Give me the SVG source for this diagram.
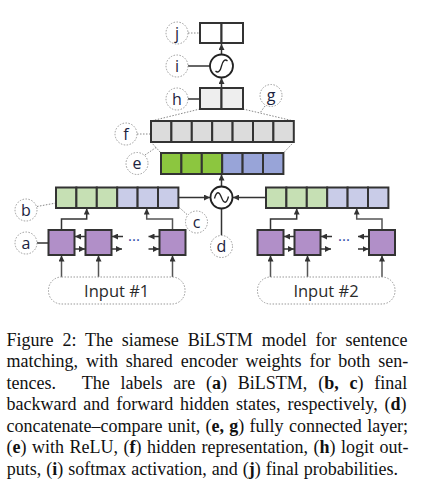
<svg xmlns="http://www.w3.org/2000/svg" width="427" height="490" viewBox="0 0 427 490">
<defs>
<marker id="ah" viewBox="0 0 10 10" refX="10" refY="5" markerWidth="6" markerHeight="6" markerUnits="userSpaceOnUse" orient="auto"><path d="M0,0 L10,5 L0,10 z" fill="#333"/></marker>
<style>
.cell{stroke:#333;stroke-width:2}
.lg{fill:#c6e0b4}.lv{fill:#c9cce8}.bg{fill:#8cc63f}.bb{fill:#98a4d8}.pu{fill:#b18fc8}.gf{fill:#dcdcdc}.gh{fill:#eeeeee}.wh{fill:#fff}
.lab{fill:#fff;stroke:#999;stroke-width:1;stroke-dasharray:1.5 1.5}
.lt{font-family:'Open Sans',sans-serif;font-size:16px;fill:#1c2340;text-anchor:middle}
.dot{fill:none;stroke:#888;stroke-width:1;stroke-dasharray:1.5 1.5}
.sol{fill:none;stroke:#333;stroke-width:1.5}
.arr{fill:none;stroke:#333;stroke-width:1.5;marker-end:url(#ah)}
.arg{fill:none;stroke:#555;stroke-width:1.5;marker-end:url(#ah)}
.inp{fill:#fff;stroke:#999;stroke-width:1;stroke-dasharray:1.5 1.5}
.it{font-family:'Open Sans',sans-serif;font-size:16.5px;fill:#2b2b2b;text-anchor:middle}
.cap{font-family:'Liberation Serif',serif;font-size:18px;fill:#111}
.b{font-weight:bold}
.dots{font-family:'Open Sans',sans-serif;font-size:15px;fill:#2a4aa8;text-anchor:middle}
</style>
</defs>
<rect width="427" height="490" fill="#fff"/>

<g id="connectors">
<path class="arr" d="M221.5 54.5 V44"/>
<path class="arr" d="M221.5 88 V78"/>
<path class="dot" d="M188 33 H200"/>
<path class="sol" d="M188 66 H210"/>
<path class="sol" d="M188 99 H200"/>
<path class="dot" d="M200 109 L151 121"/>
<path class="dot" d="M243 109 L293.8 121"/>
<path class="dot" d="M265 106 L260 113"/>
<path class="dot" d="M137 134 H151"/>
<path class="dot" d="M151 142 L161 153"/>
<path class="dot" d="M293.8 142 L283.4 153"/>
<path class="dot" d="M145 155 L156 147.5"/>
<path class="arr" d="M221.5 186.5 V174.5"/>
<path class="arr" d="M178.3 197.5 H210"/>
<path class="arr" d="M265.7 197.5 H233"/>
<path class="sol" d="M221.5 208.5 V235.5"/>
<path class="dot" d="M37 206.5 L56 203"/>
<path class="dot" d="M187 214.5 L178.3 206.5"/>
<path class="sol" d="M37 243 H48.5"/>
<path class="arr" d="M61.5 230 V219 H86.7 V208.5"/>
<path class="arg" d="M172.5 230 V219 H146.7 V208.5"/>
<path class="arr" d="M85.5 236.5 H75"/>
<path class="arr" d="M74.5 249 H85"/>
<path class="arr" d="M123 236.5 H112"/>
<path class="arr" d="M111.5 249 H122"/>
<path class="arr" d="M159.5 236.5 H148.5"/>
<path class="arr" d="M148.5 249 H159"/>
<path class="arg" d="M61.5 277 V255.5"/>
<path class="arg" d="M98.5 277 V255.5"/>
<path class="arg" d="M172.5 277 V255.5"/>
<path class="arr" d="M270.5 230 V219 H296.7 V208.5"/>
<path class="arg" d="M382 230 V219 H356.7 V208.5"/>
<path class="arr" d="M294.5 236.5 H284"/>
<path class="arr" d="M283.5 249 H294"/>
<path class="arr" d="M332 236.5 H321"/>
<path class="arr" d="M320.5 249 H331"/>
<path class="arr" d="M369 236.5 H358"/>
<path class="arr" d="M358 249 H368.5"/>
<path class="arg" d="M270.5 277 V255.5"/>
<path class="arg" d="M307.5 277 V255.5"/>
<path class="arg" d="M382 277 V255.5"/>
</g>

<g id="node-j">
<rect class="cell wh" x="200" y="23" width="21.5" height="20"/>
<rect class="cell wh" x="221.5" y="23" width="21.5" height="20"/>
</g>
<g id="node-sigmoid">
<circle cx="221.5" cy="66" r="11.5" fill="#fff" stroke="#222" stroke-width="1.8"/>
<path d="M215.5 71 C218 73.5 220.5 71 221.5 66 C222.5 61 225 58.5 227.5 61" fill="none" stroke="#222" stroke-width="1.3"/>
</g>
<g id="node-h">
<rect class="cell gh" x="200" y="88" width="21.5" height="21"/>
<rect class="cell gh" x="221.5" y="88" width="21.5" height="21"/>
</g>
<g id="node-f">
<rect class="cell gf" x="151" y="121" width="20.4" height="21"/>
<rect class="cell gf" x="171.4" y="121" width="20.4" height="21"/>
<rect class="cell gf" x="191.8" y="121" width="20.4" height="21"/>
<rect class="cell gf" x="212.2" y="121" width="20.4" height="21"/>
<rect class="cell gf" x="232.6" y="121" width="20.4" height="21"/>
<rect class="cell gf" x="253" y="121" width="20.4" height="21"/>
<rect class="cell gf" x="273.4" y="121" width="20.4" height="21"/>
</g>
<g id="node-e-row">
<rect class="cell bg" x="161" y="153" width="20.4" height="21"/>
<rect class="cell bg" x="181.4" y="153" width="20.4" height="21"/>
<rect class="cell bg" x="201.8" y="153" width="20.4" height="21"/>
<rect class="cell bb" x="222.2" y="153" width="20.4" height="21"/>
<rect class="cell bb" x="242.6" y="153" width="20.4" height="21"/>
<rect class="cell bb" x="263" y="153" width="20.4" height="21"/>
</g>
<g id="node-concat">
<circle cx="221.5" cy="197.5" r="11" fill="#fff" stroke="#222" stroke-width="1.8"/>
<path d="M214.5 198.5 C216.5 191 219 191 221.5 197.5 S226.5 204 228.5 196.5" fill="none" stroke="#222" stroke-width="1.3"/>
</g>
<g id="node-hidden-left">
<rect class="cell lg" x="56" y="187.5" width="20.4" height="20.5"/>
<rect class="cell lg" x="76.4" y="187.5" width="20.4" height="20.5"/>
<rect class="cell lg" x="96.8" y="187.5" width="20.4" height="20.5"/>
<rect class="cell lv" x="117.2" y="187.5" width="20.4" height="20.5"/>
<rect class="cell lv" x="137.6" y="187.5" width="20.4" height="20.5"/>
<rect class="cell lv" x="158" y="187.5" width="20.4" height="20.5"/>
</g>
<g id="node-hidden-right">
<rect class="cell lg" x="266" y="187.5" width="20.4" height="20.5"/>
<rect class="cell lg" x="286.4" y="187.5" width="20.4" height="20.5"/>
<rect class="cell lg" x="306.8" y="187.5" width="20.4" height="20.5"/>
<rect class="cell lv" x="327.2" y="187.5" width="20.4" height="20.5"/>
<rect class="cell lv" x="347.6" y="187.5" width="20.4" height="20.5"/>
<rect class="cell lv" x="368" y="187.5" width="20.4" height="20.5"/>
</g>
<g id="node-bilstm-left">
<rect class="cell pu" x="48.5" y="230" width="26" height="25"/>
<rect class="cell pu" x="85.5" y="230" width="26" height="25"/>
<text class="dots" x="134" y="245">···</text>
<rect class="cell pu" x="159.5" y="230" width="26" height="25"/>
</g>
<g id="node-bilstm-right">
<rect class="cell pu" x="257.5" y="230" width="26" height="25"/>
<rect class="cell pu" x="294.5" y="230" width="26" height="25"/>
<text class="dots" x="344" y="245">···</text>
<rect class="cell pu" x="369" y="230" width="26" height="25"/>
</g>
<g id="node-input1">
<rect class="inp" x="48.5" y="277" width="136.5" height="27" rx="13"/>
<text class="it" x="116.7" y="296.5">Input #1</text>
</g>
<g id="node-input2">
<rect class="inp" x="257.5" y="277" width="137.5" height="27" rx="13"/>
<text class="it" x="326" y="296.5">Input #2</text>
</g>

<g id="label-j"><circle class="lab" cx="177" cy="33" r="11"/><text class="lt" x="177" y="38.5">j</text></g>
<g id="label-i"><circle class="lab" cx="177" cy="66" r="11"/><text class="lt" x="177" y="71.5">i</text></g>
<g id="label-h"><circle class="lab" cx="177" cy="99" r="11"/><text class="lt" x="177" y="104.5">h</text></g>
<g id="label-g"><circle class="lab" cx="271" cy="95.5" r="11"/><text class="lt" x="271" y="101">g</text></g>
<g id="label-f"><circle class="lab" cx="126" cy="134" r="11"/><text class="lt" x="126" y="139.5">f</text></g>
<g id="label-e"><circle class="lab" cx="137" cy="163.5" r="11"/><text class="lt" x="137" y="169">e</text></g>
<g id="label-b"><circle class="lab" cx="26" cy="210" r="11"/><text class="lt" x="26" y="215.5">b</text></g>
<g id="label-c"><circle class="lab" cx="196.5" cy="222" r="11"/><text class="lt" x="196.5" y="227.5">c</text></g>
<g id="label-d"><circle class="lab" cx="221.5" cy="246.5" r="11"/><text class="lt" x="221.5" y="252">d</text></g>
<g id="label-a"><circle class="lab" cx="26" cy="243" r="11"/><text class="lt" x="26" y="248.5">a</text></g>

<g id="caption" class="cap">
<text x="6.5" y="345.5" word-spacing="4.4">Figure 2: The siamese BiLSTM model for sentence</text>
<text x="6.5" y="367" word-spacing="3.4">matching, with shared encoder weights for both sen-</text>
<text x="6.5" y="388.5">tences.</text>
<text x="81.7" y="388.5" word-spacing="6.3">The labels are (<tspan class="b">a</tspan>) BiLSTM, (<tspan class="b">b, c</tspan>) final</text>
<text x="6.5" y="410" word-spacing="2.4">backward and forward hidden states, respectively, (<tspan class="b">d</tspan>)</text>
<text x="6.5" y="431.5" word-spacing="0.8">concatenate–compare unit, (<tspan class="b">e, g</tspan>) fully connected layer;</text>
<text x="6.5" y="453" word-spacing="1">(<tspan class="b">e</tspan>) with ReLU, (<tspan class="b">f</tspan>) hidden representation, (<tspan class="b">h</tspan>) logit out-</text>
<text x="6.7" y="474.5" word-spacing="0.5">puts, (<tspan class="b">i</tspan>) softmax activation, and (<tspan class="b">j</tspan>) final probabilities.</text>
</g>
</svg>
